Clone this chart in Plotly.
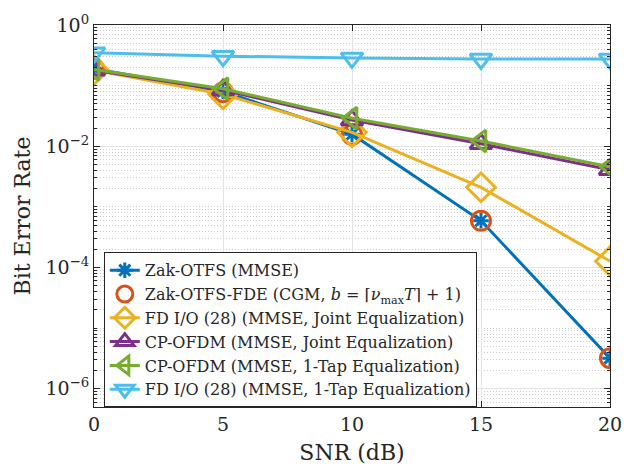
import plotly.graph_objects as go

snr = [0, 5, 10, 15, 20]
zak_mmse = [0.19, 0.080, 0.0158, 5.9e-4, 3.2e-6]
zak_fde = [0.19, 0.078, 0.0155, 5.9e-4, 3.2e-6]
fd_joint = [0.18, 0.072, 0.017, 2.1e-3, 1.27e-4]
cp_joint = [0.18, 0.085, 0.027, 0.011, 4.1e-3]
cp_1tap = [0.185, 0.089, 0.029, 0.0122, 4.6e-3]
fd_1tap = [0.35, 0.306, 0.287, 0.276, 0.276]

names = [
    "Zak-OTFS (MMSE)",
    "Zak-OTFS-FDE (CGM, <i>b</i> = ⌈<i>ν</i><sub>max</sub><i>T</i>⌉ + 1)",
    "FD I/O (28) (MMSE, Joint Equalization)",
    "CP-OFDM (MMSE, Joint Equalization)",
    "CP-OFDM (MMSE, 1-Tap Equalization)",
    "FD I/O (28) (MMSE, 1-Tap Equalization)",
]
series = [zak_mmse, zak_fde, fd_joint, cp_joint, cp_1tap, fd_1tap]
colors = ["#0072BD", "#D95319", "#EDB120", "#7E2F8E", "#77AC30", "#4DBEEE"]
symbols = ["asterisk-open", "circle-open", "diamond-open", "triangle-up-open",
           "triangle-left-open", "triangle-down-open"]
modes = ["lines+markers", "markers", "lines+markers", "lines+markers",
         "lines+markers", "lines+markers"]
sizes = [13, 19, 22, 19, 19, 19]

fig = go.Figure()
for n, s, c, sym, sz, md in zip(names, series, colors, symbols, sizes, modes):
    fig.add_trace(go.Scatter(
        x=snr, y=s, name=n, mode=md,
        line=dict(color=c, width=3),
        marker=dict(symbol=sym, size=sz, color=c, line=dict(color=c, width=3)),
    ))

major = [1e-6, 1e-4, 1e-2, 1]
major_text = ["10<sup>−6</sup>", "10<sup>−4</sup>", "10<sup>−2</sup>", "10<sup>0</sup>"]
minor_vals = []
for e in range(-7, 0):
    for m in range(1, 10):
        v = m * 10.0 ** e
        if m == 1 and e % 2 == 0:
            continue
        minor_vals.append(v)

font = "DejaVu Serif, Liberation Serif, serif"
ink = "#262626"
fig.update_layout(
    width=634, height=473,
    margin=dict(l=94, r=24, t=14, b=66),
    paper_bgcolor="white", plot_bgcolor="white",
    font=dict(family=font, color=ink),
    showlegend=True,
    legend=dict(
        x=0.019, y=0.405, xanchor="left", yanchor="top",
        bgcolor="white", bordercolor=ink, borderwidth=1,
        font=dict(family=font, size=16, color=ink),
        tracegroupgap=0, itemwidth=30,
    ),
    xaxis=dict(
        range=[0, 20], tickvals=snr, ticktext=[str(v) for v in snr],
        showline=True, linecolor=ink, linewidth=1, mirror="allticks",
        ticks="inside", ticklen=6, tickcolor=ink,
        showgrid=True, gridcolor="#e3e3e3", gridwidth=1,
        zeroline=False,
        tickfont=dict(size=19, family=font, color=ink),
        title=dict(text="SNR (dB)", font=dict(size=22, family=font, color=ink), standoff=10),
    ),
    yaxis=dict(
        type="log", range=[-6.301, 0.0005],
        tickvals=major, ticktext=major_text,
        showline=True, linecolor=ink, linewidth=1, mirror="allticks",
        ticks="inside", ticklen=6, tickcolor=ink,
        showgrid=True, gridcolor="#e3e3e3", gridwidth=1,
        zeroline=False,
        tickfont=dict(size=19, family=font, color=ink),
        title=dict(text="Bit Error Rate", font=dict(size=22, family=font, color=ink), standoff=8),
        minor=dict(tickmode="array", tickvals=minor_vals, ticks="inside", ticklen=3,
                   tickcolor=ink, showgrid=True, gridcolor="#cccccc",
                   griddash="1px,2px", gridwidth=1),
    ),
)

fig.write_html("out.html", config={"displayModeBar": False},
               post_script="document.body.style.margin='0';")
